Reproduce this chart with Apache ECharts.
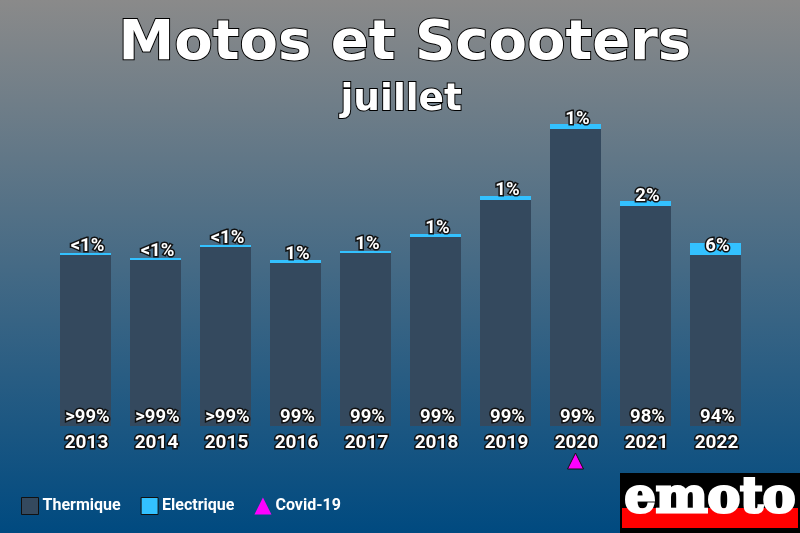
<!DOCTYPE html>
<html><head><meta charset="utf-8">
<style>html,body{margin:0;padding:0;background:#000}#c{width:800px;height:533px}</style>
<script src="https://cdn.jsdelivr.net/npm/echarts@6/dist/echarts.min.js"></script>
</head><body><div id="c"></div>
<script>
const years = ['2013','2014','2015','2016','2017','2018','2019','2020','2021','2022'];
const thermique = [171,166,179,163,173,189,226,297,220,171];
const electrique = [2,2,2,3,2,3,4,5,5,12];
const thermLabels = ['>99%','>99%','>99%','99%','99%','99%','99%','99%','98%','94%'];
const elecLabels = ['<1%','<1%','<1%','1%','1%','1%','1%','1%','2%','6%'];
const covid = [['2020',-35]];
const labelStyle = {fontFamily:'Roboto',fontWeight:'bold',color:'#fff',textBorderColor:'#111',textBorderWidth:3};
const chart = echarts.init(document.getElementById('c'),null,{renderer:'canvas'});
chart.setOption({
  animation:false,
  backgroundColor:{type:'linear',x:0,y:0,x2:0,y2:1,colorStops:[{offset:0,color:'#8a8a8a'},{offset:1,color:'#004a80'}]},
  title:[
    {text:'Motos et Scooters',left:113.5,top:11,textStyle:{fontFamily:'DejaVu Sans',fontWeight:'bold',fontSize:56,color:'#fff',textBorderColor:'#000',textBorderWidth:2}},
    {text:'juillet',left:335.5,top:76,textStyle:{fontFamily:'DejaVu Sans',fontWeight:'bold',fontSize:37.5,color:'#fff',textBorderColor:'#000',textBorderWidth:2}}
  ],
  legend:{left:16,top:492,itemGap:20,itemWidth:17,itemHeight:17,selectedMode:false,icon:'rect',
    textStyle:{fontFamily:'Roboto',fontWeight:'bold',fontSize:16,color:'#fff',padding:[0,0,0,-1]},
    data:[{name:'Thermique',itemStyle:{borderColor:'#111',borderWidth:1}},{name:'Electrique',itemStyle:{borderColor:'#111',borderWidth:1}},{name:'Covid-19',icon:'triangle',itemStyle:{borderWidth:0}}]},
  grid:{left:50.5,width:700,top:100,bottom:63},
  xAxis:{type:'category',data:years,axisLine:{show:false},axisTick:{show:false},
    axisLabel:{margin:-36,fontSize:19,...labelStyle,interval:0,padding:[0,0,0,2]}},
  yAxis:{type:'value',min:-44,max:326,show:false,splitLine:{show:false}},
  series:[
    {name:'Thermique',type:'bar',stack:'a',barWidth:51,data:thermique,
      itemStyle:{color:'#34495e'},
      label:{show:true,position:'insideBottom',distance:1,offset:[2,2],fontSize:18.5,...labelStyle,formatter:p=>thermLabels[p.dataIndex]}},
    {name:'Electrique',type:'bar',stack:'a',barWidth:51,
      data:electrique.map((v,i)=>i===9?{value:v,label:{offset:[2,-3]}}:v),
      itemStyle:{color:'#33c1ff'},
      label:{show:true,position:'inside',offset:[2,-7.5],fontSize:18.5,...labelStyle,formatter:p=>elecLabels[p.dataIndex]}},
    {name:'Covid-19',type:'scatter',symbol:'triangle',symbolSize:16,data:covid,
      itemStyle:{color:'#ff00ff',opacity:1,borderColor:'#111',borderWidth:1}}
  ],
  graphic:[
    {type:'rect',shape:{x:620,y:473,width:180,height:60},style:{fill:'#000'}},
    {type:'rect',shape:{x:622,y:508,width:176,height:20},style:{fill:'#ff0000'}},
    {type:'text',x:710,y:499,style:{text:'emoto',x:0,y:0,align:'center',verticalAlign:'middle',font:'bold 49px "DejaVu Serif"',fill:'#fff',stroke:'#fff',lineWidth:3}}
  ]
});
</script></body></html>
